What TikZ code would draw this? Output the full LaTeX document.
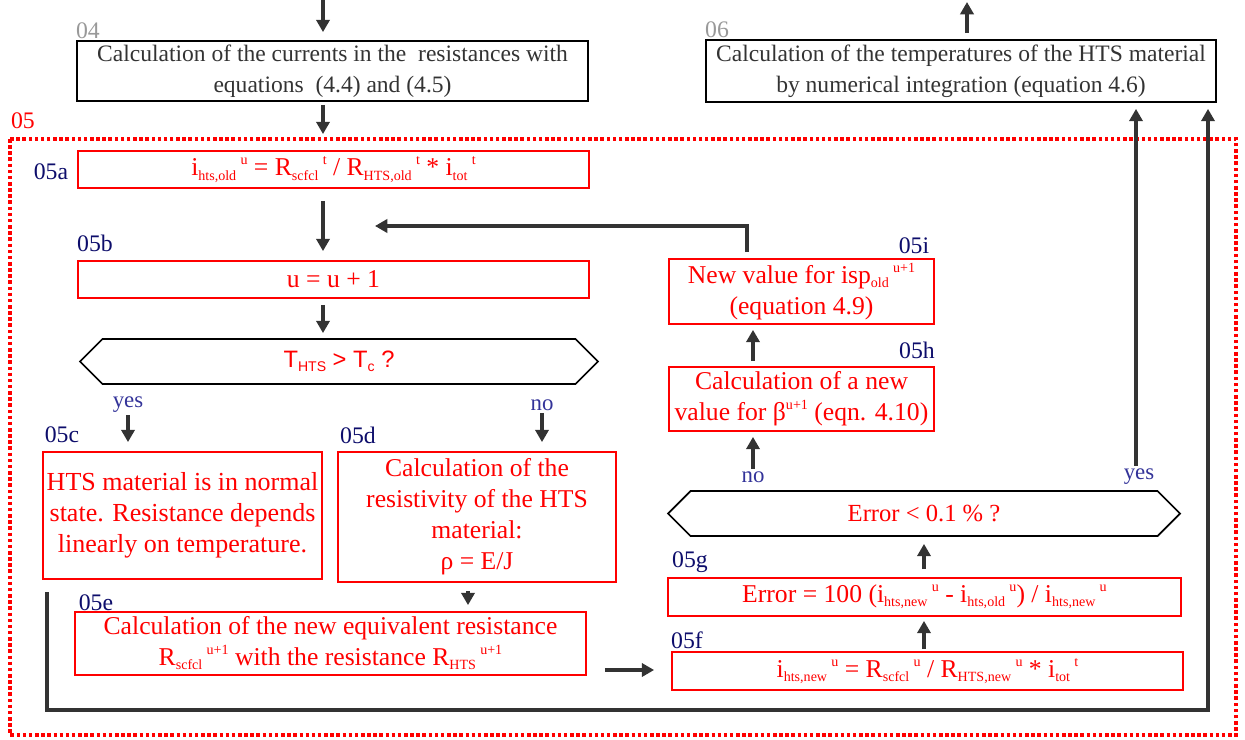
\documentclass[tikz,border=0pt]{standalone}
\usepackage{fontspec}
\setmainfont{Liberation Serif}
\newfontfamily\arialfont{Liberation Sans}
\usetikzlibrary{arrows.meta,shapes.symbols}

\definecolor{darkarrow}{HTML}{333333}
\definecolor{labelblue}{HTML}{0D0D6B}
\definecolor{answerblue}{HTML}{333399}
\definecolor{stepgray}{HTML}{999999}

% one drawing unit = one pixel of the sheet
\newcommand\pxu{0.02cm}
% small indices set the way the word processor does it
\newcommand\lowidx[1]{\raisebox{-0.35ex}{\fontsize{8}{9}\selectfont #1}}
\newcommand\highidx[1]{\,\raisebox{0.95ex}{\fontsize{8}{9}\selectfont #1}}
\newcommand\tightidx[1]{\raisebox{0.95ex}{\fontsize{8}{9}\selectfont #1}}

\tikzset{
  plainbox/.style={draw=black, line width=1pt, text=darkarrow, align=center,
    inner sep=0pt, font=\fontsize{13.4}{17.5}\selectfont},
  redbox/.style={draw=red, line width=1pt, text=red, align=center,
    inner sep=0pt, font=\fontsize{14.6}{17.6}\selectfont},
  testbox/.style={signal, signal to=west and east, draw=black, line width=1pt,
    text=red, inner sep=0pt},
  steplabel/.style={text=labelblue, font=\fontsize{13.5}{15}\selectfont, inner sep=0pt},
  answer/.style={text=answerblue, font=\fontsize{13}{15}\selectfont, inner sep=0pt},
  arr/.style={draw=darkarrow, line width=2.3pt, -{Triangle[width=7.5pt,length=7pt]}},
}

\begin{document}
\begin{tikzpicture}[x=\pxu, y=-\pxu]

	\useasboundingbox (0,0) rectangle (1245,740);

	% block 05 frame
	\draw[red, line width=2pt, dash pattern=on 2pt off 1.5pt] (10,139) rectangle (1236,735);
	\node[text=red, font=\fontsize{13.5}{15}\selectfont, inner sep=0pt] (lab05) at (23,121) {05};

	% step 04 and step 06
	\node[text=stepgray, font=\fontsize{13.5}{15}\selectfont, inner sep=0pt] (lab04) at (88,31) {04};
	\node[plainbox, minimum width=511*\pxu, minimum height=60*\pxu] (box04) at (332.5,71)
		{Calculation of the currents in the \ resistances with\\ equations \ (4.4) and (4.5)};
	\node[text=stepgray, font=\fontsize{13.5}{15}\selectfont, inner sep=0pt] (lab06) at (717,30) {06};
	\node[plainbox, minimum width=510*\pxu, minimum height=62*\pxu] (box06) at (961,71)
		{Calculation of the temperatures of the HTS material\\ by numerical integration (equation 4.6)};

	% steps 05a to 05i
	\node[steplabel] (lab05a) at (51,172) {05a};
	\node[redbox, minimum width=511*\pxu, minimum height=37*\pxu] (box05a) at (333.5,169.5)
		{i\lowidx{hts,old}\highidx{u} = R\lowidx{scfcl}\highidx{t} / R\lowidx{HTS,old}\highidx{t} * i\lowidx{tot}\highidx{t}};

	\node[steplabel] (lab05b) at (95,243) {05b};
	\node[redbox, minimum width=511*\pxu, minimum height=37*\pxu] (box05b) at (333.5,279.5) {u = u + 1};

	\node[testbox, minimum width=518*\pxu, minimum height=45*\pxu,
		font=\arialfont\fontsize{13.5}{15}\selectfont] (test1) at (339,361.5)
		{T\lowidx{HTS} > T\lowidx{c} ?};
	\node[answer] (yes1) at (128,405) {yes};
	\node[answer] (no1) at (542,405) {no};

	\node[steplabel] (lab05c) at (62,435) {05c};
	\node[redbox, minimum width=279*\pxu, minimum height=127*\pxu, font=\fontsize{14.8}{17.6}\selectfont] (box05c) at (182.5,515.5)
		{HTS material is in normal\\ state. Resistance depends\\ linearly on temperature.};

	\node[steplabel] (lab05d) at (358,435) {05d};
	\node[redbox, minimum width=278*\pxu, minimum height=130*\pxu] (box05d) at (477,517)
		{Calculation of the\\ resistivity of the HTS\\ material:\\ ρ = E/J};

	\node[steplabel] (lab05e) at (96,603) {05e};
	\node[redbox, minimum width=511*\pxu, minimum height=63*\pxu] (box05e) at (330.5,643.5)
		{Calculation of the new equivalent resistance\\ R\lowidx{scfcl}\highidx{u+1} with the resistance R\lowidx{HTS}\highidx{u+1}};

	\node[steplabel] (lab05f) at (687,640) {05f};
	\node[redbox, minimum width=511*\pxu, minimum height=38*\pxu] (box05f) at (927.5,671)
		{i\lowidx{hts,new}\highidx{u} = R\lowidx{scfcl}\highidx{u} / R\lowidx{HTS,new}\highidx{u} * i\lowidx{tot}\highidx{t}};

	\node[steplabel] (lab05g) at (690,562) {05g};
	\node[redbox, minimum width=513*\pxu, minimum height=38*\pxu] (box05g) at (924.5,597)
		{Error = 100 (i\lowidx{hts,new}\highidx{u} - i\lowidx{hts,old}\highidx{u}) / i\lowidx{hts,new}\highidx{u}};

	\node[testbox, minimum width=512*\pxu, minimum height=45*\pxu,
		font=\fontsize{14}{16}\selectfont] (test2) at (924,513.5) {Error < 0.1 \% ?};
	\node[answer] (no2) at (753,477) {no};
	\node[answer] (yes2) at (1139,477) {yes};

	\node[steplabel] (lab05h) at (917,350) {05h};
	\node[redbox, minimum width=265*\pxu, minimum height=64*\pxu] (box05h) at (801.5,399)
		{Calculation of a new\\ value for β\tightidx{u+1} (eqn. 4.10)};

	\node[steplabel] (lab05i) at (914,246) {05i};
	\node[redbox, minimum width=265*\pxu, minimum height=65*\pxu] (box05i) at (801.5,291.5)
		{New value for isp\lowidx{old}\highidx{u+1}\\ (equation 4.9)};

	% connectors
	\coordinate (in04) at (323,0);
	\coordinate (back) at (375,226);
	\coordinate (outerturn) at (47,592);
	\draw[arr, shorten >=8*\pxu] (in04) -- (in04 |- box04.north);
	\draw[arr, shorten <=3*\pxu, shorten >=16*\pxu] (box04.south -| in04) -- (box05a.north -| in04);
	\draw[arr, shorten <=12*\pxu, shorten >=9*\pxu] (box05a.south -| in04) -- (box05b.north -| in04);
	\draw[arr, shorten <=6*\pxu, shorten >=5*\pxu] (box05b.south -| in04) -- (test1.north -| in04);
	\draw[arr, shorten <=2*\pxu, shorten >=9*\pxu] (yes1.south) -- (box05c.north -| yes1);
	\draw[arr, shorten <=2*\pxu, shorten >=9*\pxu] (no1.south) -- (box05d.north -| no1);
	\draw[arr, shorten <=8*\pxu, shorten >=6*\pxu] (box05d.south -| 468,0) -- (box05e.north -| 468,0);
	\draw[arr, shorten <=18*\pxu, shorten >=17*\pxu] (box05e.east |- 0,670) -- (box05f.west |- 0,670);
	\draw[arr, shorten <=2*\pxu, shorten >=4*\pxu] (box05f.north -| test2) -- (box05g.south -| test2);
	\draw[arr, shorten <=8*\pxu, shorten >=7*\pxu] (box05g.north -| test2) -- (test2.south);
	\draw[arr, shorten <=2*\pxu, shorten >=5*\pxu] (no2.north) -- (box05h.south -| no2);
	\draw[arr, shorten <=5*\pxu, shorten >=5*\pxu] (box05h.north -| no2) -- (box05i.south -| no2);
	\draw[arr, shorten <=6*\pxu] (box05i.north -| 747,0) |- (back);
	\draw[arr, shorten <=3*\pxu, shorten >=6*\pxu] (yes2.north -| 1136,0) -- (box06.south -| 1136,0);
	\draw[arr, shorten >=6*\pxu] (outerturn) |- (1208,710) -- (box06.south -| 1208,0);
	\draw[arr, shorten <=6*\pxu, shorten >=2*\pxu] (box06.north -| 967,0) -- (967,0);

\end{tikzpicture}
\end{document}
